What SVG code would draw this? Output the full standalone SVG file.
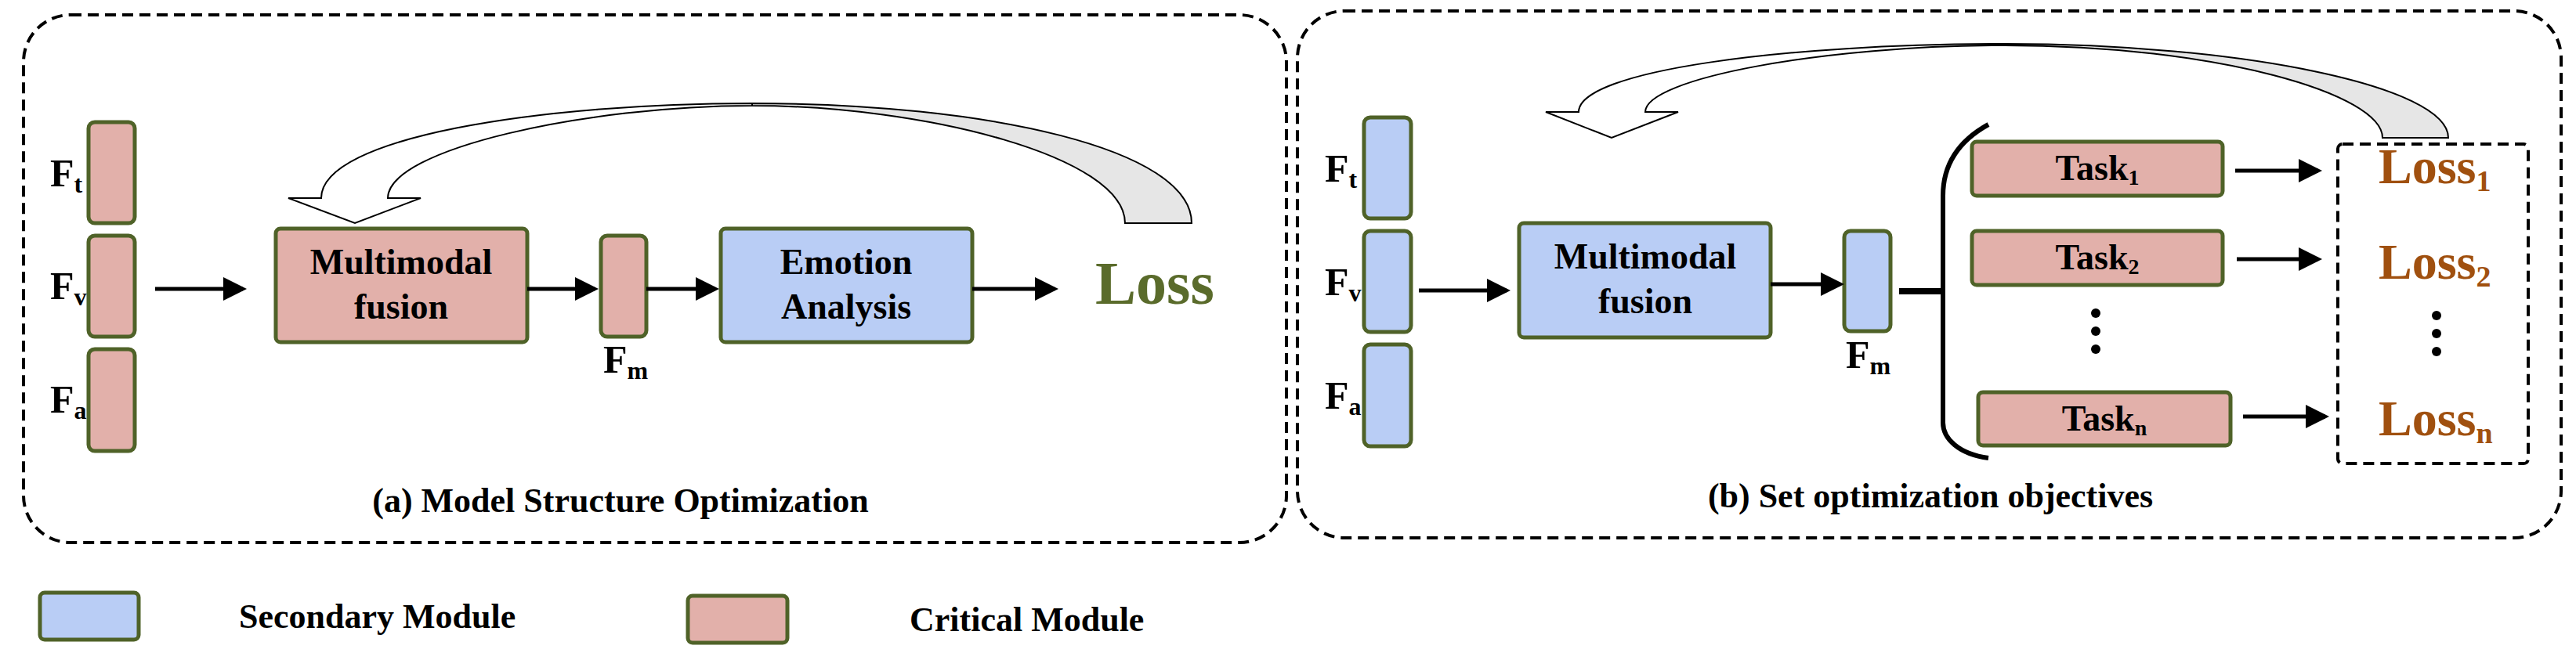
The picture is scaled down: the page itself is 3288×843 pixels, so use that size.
<svg xmlns="http://www.w3.org/2000/svg" width="3288" height="843" viewBox="0 0 3288 843">
<style>
text{font-family:"Liberation Serif","Times New Roman",serif;font-weight:bold;fill:#000}
.red{fill:#e2b0aa;stroke:#4f6228;stroke-width:5}
.blue{fill:#b9cdf5;stroke:#4f6228;stroke-width:5}
.dash{fill:none;stroke:#000;stroke-width:4;stroke-dasharray:14 8}
.arr{stroke:#000;stroke-width:5;fill:none;marker-end:url(#ah)}
.lbl{font-size:50px}
.mid{text-anchor:middle}
.loss{fill:#a0500f}
</style>
<defs>
<marker id="ah" markerWidth="6" markerHeight="6" refX="5" refY="3" orient="auto" markerUnits="strokeWidth"><path d="M0,0 L6,3 L0,6 Z" fill="#000"/></marker>
</defs>
<g id="panelA">
<rect class="dash" x="30" y="19" width="1612" height="674" rx="60"/>
<text x="792" y="654" class="mid" font-size="44">(a) Model Structure Optimization</text>
</g>
<g id="panelB">
<rect class="dash" x="1656" y="14" width="1613" height="673" rx="60"/>
<text x="2464" y="648" class="mid" font-size="44">(b) Set optimization objectives</text>
</g>
<g id="a-feats">
<rect class="red" x="113" y="156" width="59" height="129" rx="8"/>
<rect class="red" x="113" y="301" width="59" height="129" rx="8"/>
<rect class="red" x="113" y="446" width="59" height="130" rx="8"/>
<text x="64" y="238" class="lbl">F<tspan font-size="32" dy="8">t</tspan></text>
<text x="64" y="382" class="lbl">F<tspan font-size="32" dy="8">v</tspan></text>
<text x="64" y="527" class="lbl">F<tspan font-size="32" dy="8">a</tspan></text>
</g>
<g id="a-fusion"><rect class="red" x="352" y="292" width="321" height="145" rx="6"/>
<text x="512" y="350" class="mid" font-size="46">Multimodal</text><text x="512" y="407" class="mid" font-size="46">fusion</text></g>
<g id="a-fm"><rect class="red" x="767" y="301" width="58" height="129" rx="8"/>
<text x="770" y="476" class="lbl">F<tspan font-size="32" dy="8">m</tspan></text></g>
<g id="a-emotion"><rect class="blue" x="920" y="292" width="321" height="145" rx="6"/>
<text x="1080" y="350" class="mid" font-size="46">Emotion</text><text x="1080" y="407" class="mid" font-size="46">Analysis</text></g>
<g id="a-loss"><text x="1398" y="388" font-size="78" style="fill:#5a6b2b">Loss</text></g>
<g id="b-feats">
<rect class="blue" x="1741" y="150" width="60" height="129" rx="8"/>
<rect class="blue" x="1741" y="295" width="60" height="129" rx="8"/>
<rect class="blue" x="1741" y="440" width="60" height="130" rx="8"/>
<text x="1691" y="232" class="lbl">F<tspan font-size="32" dy="8">t</tspan></text>
<text x="1691" y="377" class="lbl">F<tspan font-size="32" dy="8">v</tspan></text>
<text x="1691" y="522" class="lbl">F<tspan font-size="32" dy="8">a</tspan></text>
</g>
<g id="b-fusion"><rect class="blue" x="1939" y="285" width="321" height="146" rx="6"/>
<text x="2100" y="343" class="mid" font-size="46">Multimodal</text><text x="2100" y="400" class="mid" font-size="46">fusion</text></g>
<g id="b-fm"><rect class="blue" x="2354" y="295" width="59" height="128" rx="8"/>
<text x="2356" y="470" class="lbl">F<tspan font-size="32" dy="8">m</tspan></text></g>
<g id="b-tasks">
<rect class="red" x="2517" y="181" width="320" height="69" rx="6"/>
<text x="2677" y="230" class="mid" font-size="46">Task<tspan font-size="28" dy="6">1</tspan></text>
<rect class="red" x="2517" y="295" width="320" height="69" rx="6"/>
<text x="2677" y="344" class="mid" font-size="46">Task<tspan font-size="28" dy="6">2</tspan></text>
<rect class="red" x="2525" y="501" width="322" height="68" rx="6"/>
<text x="2686" y="550" class="mid" font-size="46">Task<tspan font-size="28" dy="6">n</tspan></text>
<circle cx="2675" cy="400" r="6"/><circle cx="2675" cy="423" r="6"/><circle cx="2675" cy="446" r="6"/>
</g>
<g id="b-losses">
<rect class="dash" x="2984" y="184" width="243" height="408" rx="6"/>
<text x="3036" y="234" font-size="64" class="loss">Loss<tspan font-size="38" dy="10">1</tspan></text>
<text x="3036" y="356" font-size="64" class="loss">Loss<tspan font-size="38" dy="10">2</tspan></text>
<text x="3036" y="556" font-size="64" class="loss">Loss<tspan font-size="38" dy="10">n</tspan></text>
<circle cx="3110" cy="403" r="6"/><circle cx="3110" cy="426" r="6"/><circle cx="3110" cy="449" r="6"/>
</g>
<g id="connectors">
<line class="arr" x1="198" y1="369" x2="310" y2="369"/>
<line class="arr" x1="673" y1="369" x2="759" y2="369"/>
<line class="arr" x1="825" y1="369" x2="913" y2="369"/>
<line class="arr" x1="1241" y1="369" x2="1346" y2="369"/>
<line class="arr" x1="1811" y1="371" x2="1923" y2="371"/>
<line class="arr" x1="2260" y1="363" x2="2349" y2="363"/>
<line x1="2424" y1="372" x2="2480" y2="372" stroke="#000" stroke-width="8"/>
<path d="M2538,159 C2500,180 2480,210 2480,250 L2480,540 C2480,560 2500,580 2538,585" fill="none" stroke="#000" stroke-width="6"/>
<line class="arr" x1="2853" y1="218" x2="2959" y2="218"/>
<line class="arr" x1="2855" y1="331" x2="2959" y2="331"/>
<line class="arr" x1="2863" y1="532" x2="2968" y2="532"/>
<path d="M1521,285 C1521,190 1260,132 960,132 L960,135 C1180,135 1436,200 1436,285 Z" fill="#e6e6e6" stroke="#000" stroke-width="2"/>
<path d="M960,132 C690,132 410,175 410,253 L368,253 L453,285 L537,253 L495,253 C495,190 750,135 960,135 Z" fill="#fff" stroke="#000" stroke-width="2"/>
<path d="M3125,176 C3125,110 2860,56 2559,56 L2559,58 C2830,58 3041,120 3041,176 Z" fill="#e6e6e6" stroke="#000" stroke-width="2"/>
<path d="M2559,56 C2280,56 2015,90 2015,143 L1973,143 L2057,176 L2142,143 L2100,143 C2100,100 2330,58 2559,58 Z" fill="#fff" stroke="#000" stroke-width="2"/>
</g>
<g id="legend">
<rect class="blue" x="51" y="757" width="126" height="60" rx="6"/>
<text x="305" y="802" font-size="44">Secondary Module</text>
<rect class="red" x="878" y="761" width="127" height="60" rx="6"/>
<text x="1161" y="806" font-size="44">Critical Module</text>
</g>
</svg>
